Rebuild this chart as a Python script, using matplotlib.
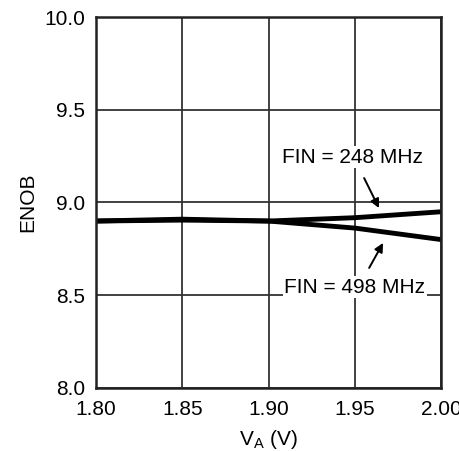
import matplotlib
matplotlib.use("Agg")
import matplotlib.pyplot as plt

plt.rcParams['font.family'] = ['Liberation Sans', 'DejaVu Sans']

va = [1.80, 1.85, 1.90, 1.95, 2.00]
enob_248 = [8.90, 8.905, 8.90, 8.918, 8.95]
enob_498 = [8.90, 8.91, 8.90, 8.862, 8.80]

fig = plt.figure(figsize=(4.59, 4.51), dpi=100)
ax = fig.add_axes([0.209, 0.140, 0.752, 0.822])

ax.plot(va, enob_248, color='black', lw=3.5)
ax.plot(va, enob_498, color='black', lw=3.5)

ax.set_xlim(1.80, 2.00)
ax.set_ylim(8.0, 10.0)
ax.set_xticks(va)
ax.set_xticklabels(['1.80', '1.85', '1.90', '1.95', '2.00'])
ax.set_yticks([8.0, 8.5, 9.0, 9.5, 10.0])
ax.set_yticklabels(['8.0', '8.5', '9.0', '9.5', '10.0'])
ax.tick_params(length=0, labelsize=15)
ax.tick_params(axis='x', pad=9)
ax.tick_params(axis='y', pad=8)
ax.grid(True, color='#333333', lw=1.3)
for s in ax.spines.values():
    s.set_linewidth(1.8)
    s.set_color('#222222')

ax.set_xlabel('V$_\\mathregular{A}$ (V)', fontsize=15, labelpad=6)
ax.set_ylabel('ENOB', fontsize=15)
ax.yaxis.set_label_coords(-0.17, 0.5)

bbox = dict(facecolor='white', edgecolor='none', pad=1)
ax.text(1.9484, 9.245, 'FIN = 248 MHz', ha='center', va='center',
        fontsize=15, bbox=bbox)
ax.text(1.950, 8.544, 'FIN = 498 MHz', ha='center', va='center',
        fontsize=15, bbox=bbox)
arrow = dict(arrowstyle='-|>', color='black', lw=1.4,
             shrinkA=0, shrinkB=0, mutation_scale=13)
ax.annotate('', xy=(1.964, 8.970), xytext=(1.9554, 9.132), arrowprops=arrow)
ax.annotate('', xy=(1.9664, 8.782), xytext=(1.9583, 8.647), arrowprops=arrow)

fig.savefig('out.png', dpi=100)
